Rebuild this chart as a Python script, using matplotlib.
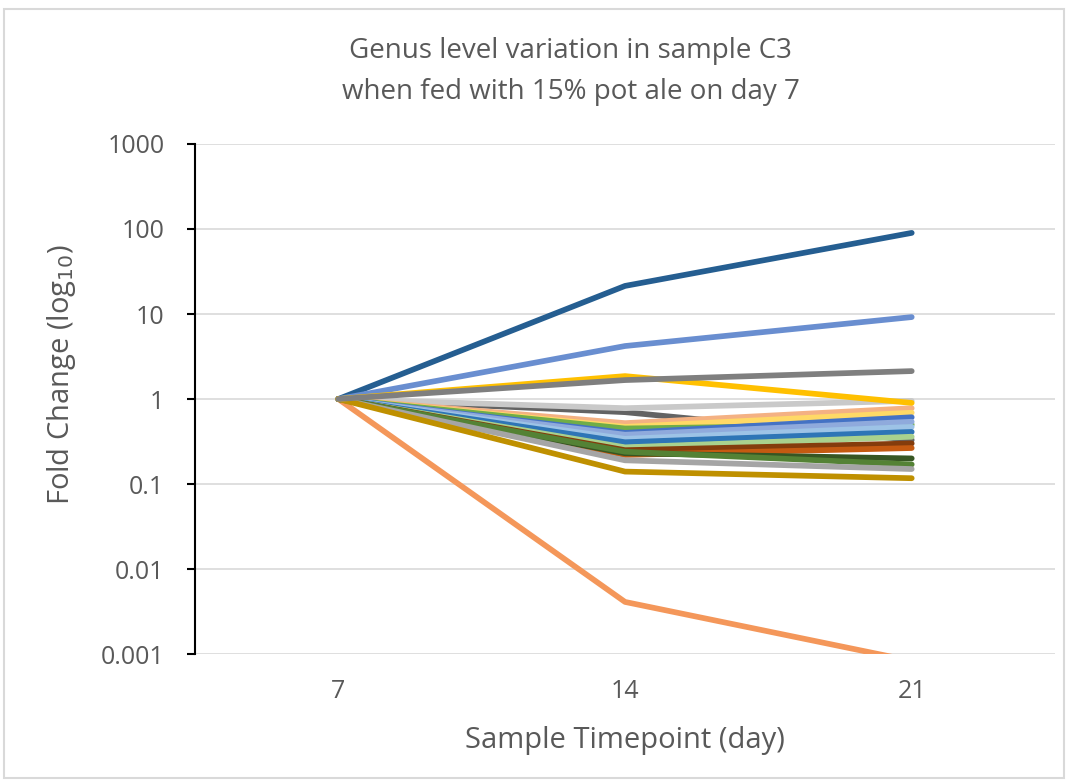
import matplotlib.pyplot as plt
from matplotlib.patches import Rectangle

# Fold change of each genus relative to day 7
days = ["7", "14", "21"]

dark_blue = [1, 21.4, 90]
cornflower = [1, 4.2, 9.2]
mid_gray = [1, 1.67, 2.13]
gold = [1, 1.86, 0.9]
dark_gray = [1, 0.70, 0.33]
light_gray = [1, 0.78, 0.95]
peach = [1, 0.52, 0.78]
light_yellow = [1, 0.47, 0.69]
green = [1, 0.45, 0.50]
blue = [1, 0.40, 0.61]
light_cornflower = [1, 0.38, 0.54]
sky = [1, 0.34, 0.47]
steel_blue = [1, 0.31, 0.41]
light_green = [1, 0.27, 0.36]
brown = [1, 0.25, 0.30]
orange = [1, 0.22, 0.265]
dark_green = [1, 0.23, 0.20]
olive_green = [1, 0.24, 0.17]
silver = [1, 0.19, 0.15]
dark_gold = [1, 0.14, 0.117]
salmon = [1, 0.0041, 0.00083]

series = [
    (dark_blue, "#255E91"),
    (cornflower, "#698ED0"),
    (salmon, "#F4975A"),
    (dark_gray, "#636363"),
    (light_gray, "#C9C9C9"),
    (peach, "#F4B183"),
    (light_yellow, "#FFD966"),
    (green, "#70AD47"),
    (blue, "#4472C4"),
    (light_cornflower, "#8FAADC"),
    (sky, "#9DC3E6"),
    (steel_blue, "#2E75B6"),
    (light_green, "#A9D18E"),
    (brown, "#843C0C"),
    (orange, "#C55A11"),
    (dark_green, "#375623"),
    (olive_green, "#548235"),
    (silver, "#A5A5A5"),
    (dark_gold, "#BF9000"),
    (gold, "#FFC000"),
    (mid_gray, "#7F7F7F"),
]

plt.rcParams['font.family'] = ['Open Sans', 'DejaVu Sans']
text_color = "#595959"

fig = plt.figure(figsize=(10.67, 7.8), dpi=100)
ax = fig.add_axes([0.1828, 0.1615, 0.8060, 0.6539])

x = list(range(len(days)))
for values, color in series:
    ax.plot(x, values, color=color, linewidth=4.1, solid_capstyle='round',
            solid_joinstyle='round')

ax.set_yscale('log')
ax.set_ylim(0.001, 1000)
ax.set_xlim(-0.5, 2.5)
ax.set_yticks([0.001, 0.01, 0.1, 1, 10, 100, 1000])
ax.set_yticklabels(["0.001", "0.01", "0.1", "1", "10", "100", "1000"])
ax.minorticks_off()
ax.set_xticks(x)
ax.set_xticklabels(days)

ax.grid(axis='y', color="#D9D9D9", linewidth=1.2)
ax.set_axisbelow(True)
for side in ["top", "right", "bottom"]:
    ax.spines[side].set_visible(False)
ax.spines["left"].set_linewidth(1.5)
ax.tick_params(axis='y', direction='out', length=6, width=1.5, colors='black',
               labelcolor=text_color, labelsize=18, pad=16)
ax.tick_params(axis='x', length=0, labelcolor=text_color, labelsize=18, pad=18)

ax.set_xlabel("Sample Timepoint (day)", fontsize=21, color=text_color, labelpad=16)
fig.text(0.058, 0.52, r"Fold Change (log$_{10}$)", rotation=90, fontsize=21,
         color=text_color, ha='center', va='center')

fig.text(0.535, 0.908, "Genus level variation in sample C3\nwhen fed with 15% pot ale on day 7",
         ha='center', va='center', fontsize=20, color=text_color, linespacing=1.6)

fig.patches.append(Rectangle((0.004, 0.003), 0.993, 0.985, transform=fig.transFigure,
                             fill=False, edgecolor="#D9D9D9", linewidth=1.5))

fig.savefig("out.png", dpi=100)
